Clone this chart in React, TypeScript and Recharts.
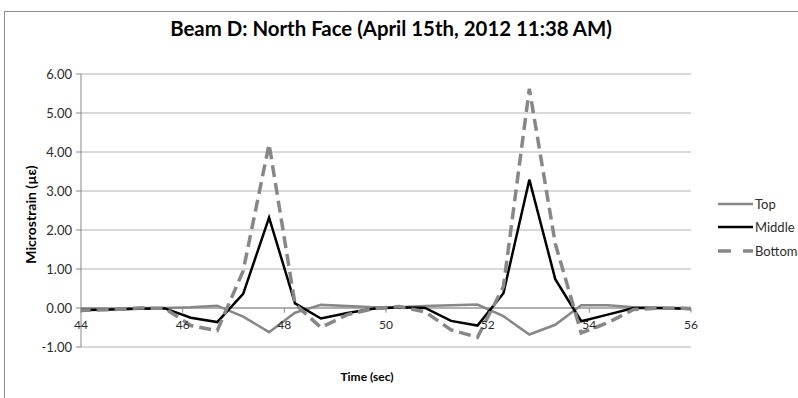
import { CartesianGrid, Legend, Line, LineChart, ReferenceDot, ReferenceLine, XAxis, YAxis } from "recharts";

const FONT = "Lato, 'Open Sans', sans-serif";
const GRAY = "#878787";
const GRID = "#b4b4b4";
const AXIS = "#868686";
const TEXT = "#2b2b2b";

// sample times (sec); first and last fall just outside the 44–56 window and get clipped
const times = [
  43.6, 44.12, 44.63, 45.14, 45.65, 46.16, 46.68, 47.19, 47.7, 48.21, 48.72, 49.24, 49.75, 50.26, 50.77, 51.28,
  51.8, 52.31, 52.82, 53.33, 53.84, 54.36, 54.87, 55.38, 55.89, 56.4,
];
const topStrain = [
  -0.03, -0.02, -0.02, 0.0, 0.0, 0.02, 0.06, -0.22, -0.62, -0.12, 0.08, 0.05, 0.02, 0.02, 0.05, 0.07, 0.09, -0.21,
  -0.68, -0.43, 0.07, 0.07, 0.02, 0.0, 0.0, 0.0,
];
const middleStrain = [
  -0.05, -0.05, -0.04, -0.02, -0.01, -0.25, -0.36, 0.36, 2.32, 0.12, -0.27, -0.13, -0.02, 0.02, 0.0, -0.33, -0.45,
  0.38, 3.29, 0.74, -0.34, -0.17, 0.0, 0.0, -0.02, -0.06,
];
const bottomStrain = [
  -0.08, -0.06, -0.04, 0.0, -0.01, -0.45, -0.58, 0.95, 4.2, 0.1, -0.5, -0.17, -0.02, 0.04, -0.1, -0.56, -0.75, 0.55,
  5.62, 1.65, -0.64, -0.38, -0.04, 0.0, -0.01, -0.05,
];

const seriesKeys = ["top", "middle", "bottom"] as const;
const seriesNames = ["Top", "Middle", "Bottom"];
const xTicks = [44, 46, 48, 50, 52, 54, 56];
const yTicks = [-1, 0, 1, 2, 3, 4, 5, 6];

const data = times.map((time, i) => ({
  time,
  top: topStrain[i],
  middle: middleStrain[i],
  bottom: bottomStrain[i],
}));

const seriesStyle: Record<string, { color: string; width: number; dash?: string; legendDash?: string }> = {
  top: { color: GRAY, width: 2.5 },
  middle: { color: "#000000", width: 2.5 },
  bottom: { color: GRAY, width: 3.5, dash: "12 6", legendDash: "13 12" },
};

function LegendBox({ payload }: any) {
  const items = [...(payload || [])].sort(
    (a: any, b: any) => seriesKeys.indexOf(a.dataKey) - seriesKeys.indexOf(b.dataKey),
  );
  return (
    <div style={{ fontFamily: FONT, fontSize: 13, color: TEXT }}>
      {items.map((entry: any) => {
        const s = seriesStyle[entry.dataKey];
        return (
          <div key={entry.dataKey} style={{ display: "flex", alignItems: "center", height: 23.5 }}>
            <svg width={37} height={10}>
              <line x1={0} y1={5} x2={35} y2={5} stroke={s.color} strokeWidth={s.width} strokeDasharray={s.legendDash} />
            </svg>
            <span>{entry.value}</span>
          </div>
        );
      })}
    </div>
  );
}

export default function App() {
  return (
    <div style={{ position: "absolute", left: 0, top: 0, width: 798, height: 398, background: "#fff" }}>
      <div
        style={{
          position: "absolute",
          left: 4,
          top: 11,
          right: 0,
          bottom: 0,
          borderLeft: "1px solid #8c8c8c",
          borderTop: "1px solid #8c8c8c",
        }}
      />
      <div
        style={{
          position: "absolute",
          left: 0,
          top: 16,
          width: 782,
          textAlign: "center",
          fontFamily: FONT,
          fontWeight: 700,
          fontSize: 20.4,
          lineHeight: "24px",
          color: "#000",
        }}
      >
        Beam D: North Face (April 15th, 2012 11:38 AM)
      </div>
      <div style={{ position: "absolute", left: 0, top: 0 }}>
        <LineChart
          width={798}
          height={398}
          data={data}
          margin={{ top: 74, right: 107, left: 21, bottom: 11 }}
          style={{ fontFamily: FONT }}
        >
          <CartesianGrid stroke={GRID} vertical={false} />
          <XAxis
            type="number"
            dataKey="time"
            domain={[44, 56]}
            ticks={xTicks}
            allowDataOverflow
            height={40}
            tick={false}
            axisLine={false}
            tickLine={false}
            label={{
              value: "Time (sec)",
              position: "insideBottom",
              offset: 6,
              dx: -19,
              fill: "#000",
              fontSize: 12,
              fontWeight: 700,
            }}
          />
          <YAxis
            domain={[-1, 6]}
            ticks={yTicks}
            interval={0}
            allowDataOverflow
            width={60}
            tickSize={5}
            tickMargin={4}
            tickFormatter={(v: number) => v.toFixed(2)}
            tick={{ fill: TEXT, fontSize: 13 }}
            axisLine={{ stroke: AXIS }}
            tickLine={{ stroke: AXIS }}
            label={{
              value: "Microstrain (µε)",
              angle: -90,
              position: "center",
              dx: -20,
              dy: 4,
              fill: "#000",
              fontSize: 14,
              fontWeight: 700,
            }}
          />
          <ReferenceLine y={0} stroke={AXIS} strokeWidth={1} />
          {xTicks.map((t) => (
            <ReferenceLine
              key={`tick-${t}`}
              segment={[
                { x: t, y: 0 },
                { x: t, y: -0.12 },
              ]}
              stroke={AXIS}
            />
          ))}
          {xTicks.map((t) => (
            <ReferenceDot
              key={`lbl-${t}`}
              x={t}
              y={0}
              r={0}
              fill="none"
              stroke="none"
              label={{ value: String(t), position: "bottom", offset: 12, fill: TEXT, fontSize: 12 }}
            />
          ))}
          <Legend
            layout="vertical"
            align="center"
            verticalAlign="middle"
            content={<LegendBox />}
            wrapperStyle={{ left: 718, top: 192, width: 80 }}
          />
          {seriesKeys.map((key, i) => (
            <Line
              key={key}
              type="linear"
              dataKey={key}
              name={seriesNames[i]}
              stroke={seriesStyle[key].color}
              strokeWidth={seriesStyle[key].width}
              strokeDasharray={seriesStyle[key].dash}
              dot={false}
              activeDot={false}
              isAnimationActive={false}
            />
          ))}
        </LineChart>
      </div>
    </div>
  );
}
